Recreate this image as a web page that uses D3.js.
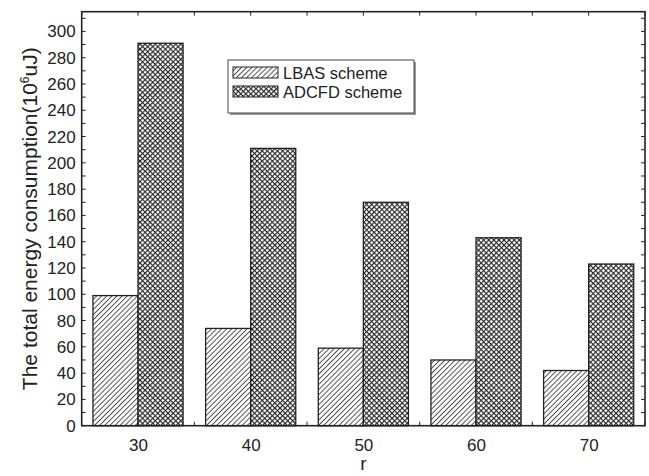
<!DOCTYPE html>
<html>
<head>
<meta charset="utf-8">
<script src="https://cdn.jsdelivr.net/npm/d3@7"></script>
<style>
  body { margin: 0; background: #fff; }
  text { font-family: "Liberation Sans", Arial, sans-serif; fill: #222; }
</style>
</head>
<body>
<svg id="chart" width="649" height="476"></svg>
<script>
// chart data
const radii = [30, 40, 50, 60, 70];
const lbas = [99, 74, 59, 50, 42];
const adcfd = [291, 211, 170, 143, 123];
const yTicks = [0, 20, 40, 60, 80, 100, 120, 140, 160, 180, 200, 220, 240, 260, 280, 300];
const seriesNames = ['LBAS scheme', 'ADCFD scheme'];

const W = 649, H = 476;
const margin = { left: 81.7, right: 4, top: 11.7, bottom: 50.3 };

const svg = d3.select('#chart');
const defs = svg.append('defs');

// diagonal hatch
const hatch = defs.append('pattern')
  .attr('id', 'hatch')
  .attr('patternUnits', 'userSpaceOnUse')
  .attr('width', 3.6).attr('height', 3.6)
  .attr('patternTransform', 'rotate(45)');
hatch.append('rect').attr('width', 3.6).attr('height', 3.6).attr('fill', '#fff');
hatch.append('line')
  .attr('x1', 0).attr('y1', 0).attr('x2', 0).attr('y2', 3.6)
  .attr('stroke', '#222').attr('stroke-width', 1.5);

// cross hatch
const cross = defs.append('pattern')
  .attr('id', 'cross')
  .attr('patternUnits', 'userSpaceOnUse')
  .attr('width', 3.6).attr('height', 3.6)
  .attr('patternTransform', 'rotate(45)');
cross.append('rect').attr('width', 3.6).attr('height', 3.6).attr('fill', '#fff');
cross.append('line')
  .attr('x1', 0).attr('y1', 0).attr('x2', 0).attr('y2', 3.6)
  .attr('stroke', '#222').attr('stroke-width', 2.2);
cross.append('line')
  .attr('x1', 0).attr('y1', 0).attr('x2', 3.6).attr('y2', 0)
  .attr('stroke', '#222').attr('stroke-width', 2.2);

const x = d3.scaleLinear().domain([25, 75]).range([margin.left, W - margin.right]);
const y = d3.scaleLinear().domain([0, 315]).range([H - margin.bottom, margin.top]);

const barW = 4; // in r units
const series = [
  { name: seriesNames[0], values: lbas, fill: 'url(#hatch)', offset: -barW },
  { name: seriesNames[1], values: adcfd, fill: 'url(#cross)', offset: 0 }
];

// bars
series.forEach(s => {
  svg.append('g')
    .selectAll('rect')
    .data(radii.map((r, i) => ({ r, v: s.values[i] })))
    .enter().append('rect')
    .attr('x', d => x(d.r + s.offset))
    .attr('width', x(barW) - x(0))
    .attr('y', d => y(d.v))
    .attr('height', d => y(0) - y(d.v))
    .attr('fill', s.fill)
    .attr('stroke', '#222')
    .attr('stroke-width', 1.3);
});

// axes (ticks inside)
const minorY = d3.range(0, 316, 10);
const minorX = d3.range(25, 76, 5);

svg.append('g')
  .attr('transform', `translate(${margin.left},0)`)
  .call(d3.axisLeft(y).tickValues(yTicks).tickSize(0).tickPadding(6))
  .call(g => g.select('.domain').remove())
  .call(g => g.selectAll('text').style('font-size', '17px').attr('fill', '#222'));

svg.append('g')
  .attr('transform', `translate(0,${H - margin.bottom})`)
  .call(d3.axisBottom(x).tickValues(radii).tickSize(0).tickPadding(13))
  .call(g => g.select('.domain').remove())
  .call(g => g.selectAll('text').style('font-size', '17px').attr('fill', '#222'));

// minor ticks
const tk = svg.append('g').attr('stroke', '#222').attr('stroke-width', 1);
minorY.forEach(v => {
  tk.append('line').attr('x1', margin.left).attr('x2', margin.left + 4).attr('y1', y(v)).attr('y2', y(v));
  tk.append('line').attr('x1', W - margin.right).attr('x2', W - margin.right - 4).attr('y1', y(v)).attr('y2', y(v));
});
minorX.forEach(v => {
  tk.append('line').attr('y1', y(0)).attr('y2', y(0) - 4).attr('x1', x(v)).attr('x2', x(v));
  tk.append('line').attr('y1', margin.top).attr('y2', margin.top + 4).attr('x1', x(v)).attr('x2', x(v));
});

// frame
svg.append('rect')
  .attr('x', margin.left).attr('y', margin.top)
  .attr('width', W - margin.right - margin.left)
  .attr('height', H - margin.bottom - margin.top)
  .attr('fill', 'none').attr('stroke', '#222').attr('stroke-width', 1.6);

// axis titles
svg.append('text')
  .attr('x', x(50)).attr('y', 470)
  .attr('text-anchor', 'middle')
  .style('font-size', '19px')
  .text('r');

const yt = svg.append('text')
  .attr('transform', `translate(37,${(margin.top + H - margin.bottom) / 2}) rotate(-90)`)
  .attr('text-anchor', 'middle')
  .style('font-size', '21px');
yt.append('tspan').text('The total energy consumption(10');
yt.append('tspan').attr('dy', -8).style('font-size', '12px').text('6');
yt.append('tspan').attr('dy', 8).text('uJ)');

// legend
const lg = svg.append('g').attr('transform', 'translate(228,60)');
lg.append('rect').attr('x', 2).attr('y', 2).attr('width', 186).attr('height', 53)
  .attr('fill', '#999');
lg.append('rect').attr('width', 186).attr('height', 53)
  .attr('fill', '#fff').attr('stroke', '#444').attr('stroke-width', 1);
series.forEach((s, i) => {
  const ly = 7 + i * 19;
  lg.append('rect').attr('x', 5).attr('y', ly).attr('width', 45).attr('height', 11)
    .attr('fill', s.fill).attr('stroke', '#222').attr('stroke-width', 1);
  lg.append('text').attr('x', 55).attr('y', ly + 12)
    .style('font-size', '16.5px').text(s.name);
});
</script>
</body>
</html>
